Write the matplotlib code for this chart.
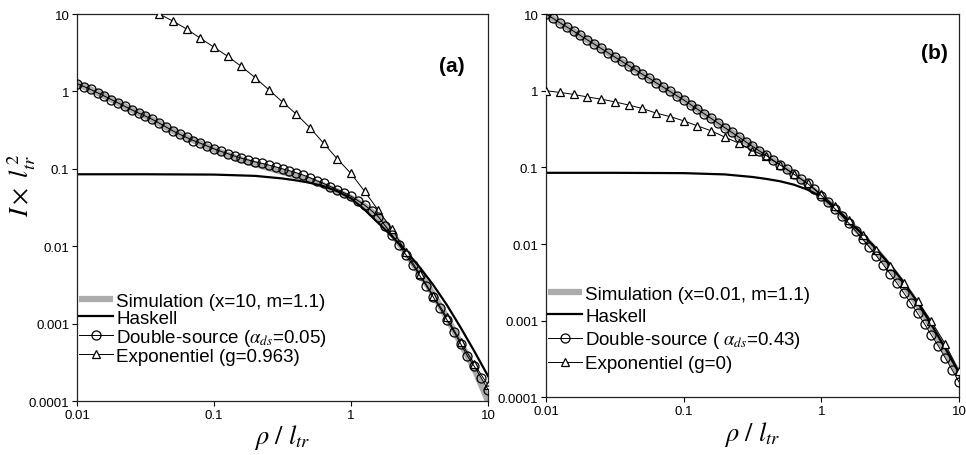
import numpy as np
import matplotlib
matplotlib.use("Agg")
import matplotlib.pyplot as plt

plt.rcParams["font.family"] = ["Liberation Sans", "DejaVu Sans"]
plt.rcParams["mathtext.fontset"] = "stix"

# ---- data (log-spaced abscissa rho/l_tr) ----
# double-source points, one every 0.05 decade from 0.01 to 10
x_ds = 10 ** np.arange(-2.0, 1.0001, 0.05)
ds_a = [1.26, 1.156, 1.06, 0.96, 0.871, 0.785, 0.71, 0.64, 0.578, 0.525,
        0.479, 0.435, 0.389, 0.347, 0.309, 0.279, 0.254, 0.232, 0.214, 0.197,
        0.181, 0.168, 0.157, 0.146, 0.137, 0.130, 0.123, 0.1175, 0.1117, 0.106,
        0.100, 0.0944, 0.0891, 0.0832, 0.0767, 0.070, 0.0646, 0.0589, 0.0537, 0.049,
        0.0442, 0.0389, 0.0339, 0.0288, 0.024, 0.0183, 0.0139, 0.01045, 0.00778, 0.00575,
        0.00422, 0.00307, 0.00221, 0.00158, 0.00112, 0.00079, 0.00055, 0.00038, 0.00028, 0.0002,
        0.00014]
ds_b = [10.0, 8.8, 7.7, 6.8, 5.97, 5.25, 4.6, 4.06, 3.56, 3.13,
        2.75, 2.42, 2.13, 1.87, 1.64, 1.45, 1.27, 1.12, 0.98, 0.86,
        0.76, 0.66, 0.574, 0.50, 0.435, 0.378, 0.329, 0.286, 0.249, 0.216,
        0.188, 0.164, 0.143, 0.124, 0.108, 0.094, 0.0817, 0.071, 0.0618, 0.0518,
        0.0430, 0.0354, 0.0288, 0.0233, 0.0187, 0.0148, 0.01167, 0.0091, 0.00705, 0.0054,
        0.0041, 0.00309, 0.0023, 0.0017, 0.00125, 0.00091, 0.00065, 0.00047, 0.00033, 0.00023,
        0.00016]

# exponential model, one triangle every 0.1 decade
x_exp_a = 10 ** np.arange(-1.4, 1.0001, 0.1)
exp_a = [10.0, 8.1, 6.4, 4.87, 3.72, 2.84, 2.1, 1.51, 1.05, 0.73,
         0.51, 0.34, 0.214, 0.134, 0.087, 0.051, 0.029, 0.0165, 0.0085, 0.0044,
         0.0023, 0.0012, 0.00058, 0.0003, 0.00016]
x_exp_b = 10 ** np.arange(-2.0, 1.0001, 0.1)
exp_b = [1.0, 0.95, 0.895, 0.83, 0.776, 0.716, 0.65, 0.587, 0.51, 0.46,
         0.405, 0.348, 0.30, 0.248, 0.207, 0.166, 0.139, 0.108, 0.082, 0.0618,
         0.0445, 0.031, 0.0205, 0.0132, 0.0084, 0.0052, 0.0031, 0.0018, 0.00098, 0.0005,
         0.00022]

# Haskell (same in both panels)
x_hask = [0.01, 0.0316, 0.1, 0.2, 0.316, 0.398, 0.501, 0.631, 0.794, 1.0,
          1.26, 1.58, 2.0, 2.51, 3.16, 3.98, 5.01, 6.31, 7.94, 10.0]
hask = [0.085, 0.085, 0.0842, 0.081, 0.075, 0.0708, 0.066, 0.0596, 0.0513, 0.0415,
        0.0295, 0.020, 0.0133, 0.0087, 0.0054, 0.00316, 0.00174, 0.00089, 0.00044, 0.00021]

# Monte-Carlo simulation, every 0.1 decade
x_sim = 10 ** np.arange(-2.0, 1.0001, 0.1)
sim_a = [1.26, 1.06, 0.871, 0.71, 0.578, 0.479, 0.389, 0.309, 0.254, 0.214,
         0.178, 0.152, 0.131, 0.115, 0.102, 0.091, 0.081, 0.071, 0.061, 0.051,
         0.042, 0.033, 0.024, 0.0145, 0.0082, 0.0045, 0.0024, 0.0012, 0.00056, 0.00026,
         0.0001]
sim_b = [10.0, 7.7, 5.97, 4.6, 3.56, 2.75, 2.13, 1.64, 1.27, 0.98,
         0.76, 0.574, 0.435, 0.329, 0.249, 0.188, 0.143, 0.108, 0.0817, 0.059,
         0.042, 0.0292, 0.0195, 0.0128, 0.0082, 0.0050, 0.0029, 0.00162, 0.00084, 0.00041,
         0.0002]

panels = [
    dict(sim=sim_a, ds=ds_a, xe=x_exp_a, ex=exp_a, tag="(a)", tagpos=(0.912, 0.866),
         labels=["Simulation (x=10, m=1.1)", "Haskell",
                 r"Double-source ($\alpha_{ds}$=0.05)", "Exponentiel (g=0.963)"],
         rect=[0.0797, 0.1184, 0.4255, 0.8487], lsp=0.0, lanchor=(0.0, 0.285)),
    dict(sim=sim_b, ds=ds_b, xe=x_exp_b, ex=exp_b, tag="(b)", tagpos=(0.94, 0.90),
         labels=["Simulation (x=0.01, m=1.1)", "Haskell",
                 r"Double-source ( $\alpha_{ds}$=0.43)", "Exponentiel (g=0)"],
         rect=[0.5652, 0.1261, 0.4275, 0.8410], lsp=0.26, lanchor=(0.0, 0.297)),
]

fig = plt.figure(figsize=(9.66, 4.56), dpi=100)
tick_vals = [0.0001, 0.001, 0.01, 0.1, 1, 10]
tick_txt = ["0.0001", "0.001", "0.01", "0.1", "1", "10"]

for i, p in enumerate(panels):
    ax = fig.add_axes(p["rect"])
    ax.plot(x_sim, p["sim"], color="#acacac", lw=4.5, solid_capstyle="butt",
            zorder=1, label=p["labels"][0])
    ax.plot(x_hask, hask, color="black", lw=1.6, zorder=2, label=p["labels"][1])
    ax.plot(x_ds, p["ds"], color="black", lw=0.7, marker="o", ms=6.5,
            mfc="none", mec="black", mew=0.9, zorder=4, label=p["labels"][2])
    ax.plot(p["xe"], p["ex"], color="black", lw=0.7, marker="^", ms=5.5,
            mfc="white", mec="black", mew=0.9, zorder=3, label=p["labels"][3])

    ax.set_xscale("log")
    ax.set_yscale("log")
    ax.set_xlim(0.01, 10)
    ax.set_ylim(0.0001, 10)
    ax.set_xticks([0.01, 0.1, 1, 10])
    ax.set_xticklabels(["0.01", "0.1", "1", "10"])
    ax.set_yticks(tick_vals)
    ax.set_yticklabels(tick_txt)
    ax.minorticks_off()
    ax.tick_params(direction="out", length=3.5, width=0.8, labelsize=9.5, pad=2)
    for s in ax.spines.values():
        s.set_linewidth(0.9)
        s.set_color("#222222")

    ax.set_xlabel(r"$\rho\ /\ l_{tr}$", fontsize=19, labelpad=1)
    if i == 0:
        ax.set_ylabel(r"$I\times\ l_{tr}^{\,2}$", fontsize=19)
        ax.yaxis.set_label_coords(-0.095, 0.56)

    ax.text(p["tagpos"][0], p["tagpos"][1], p["tag"], transform=ax.transAxes,
            fontsize=15, fontweight="bold", ha="center", va="center")

    ax.legend(loc="upper left", bbox_to_anchor=p["lanchor"], frameon=False,
              fontsize=13.5, handlelength=1.8, handletextpad=0.2,
              labelspacing=p["lsp"], borderpad=0.1, borderaxespad=0.0)

fig.savefig("out.png", dpi=100)
